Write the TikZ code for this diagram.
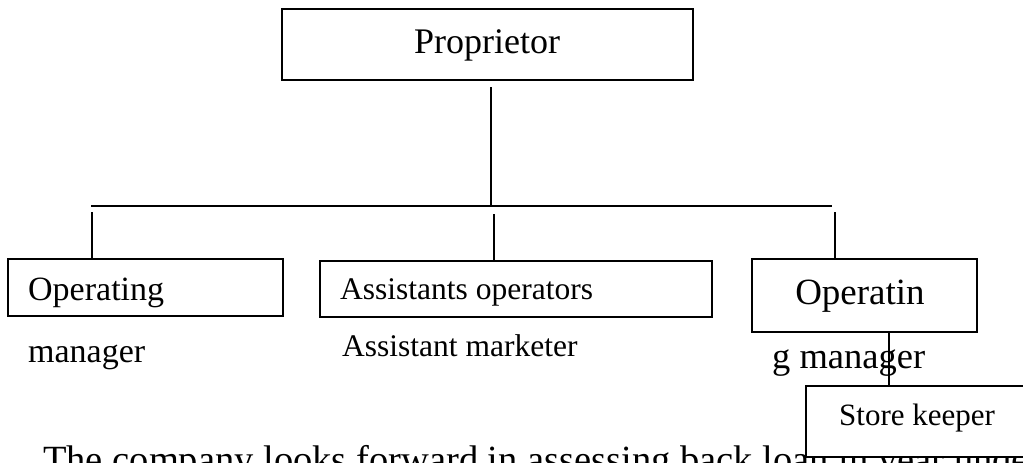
\documentclass[tikz,border=0pt]{standalone}
\usepackage{fontspec}
\setmainfont{Liberation Serif}
\begin{document}
\begin{tikzpicture}[x=1pt,y=-1pt,
  box/.style={draw=black,line width=1.1pt,fill=white,inner sep=0pt},
  conn/.style={draw=black,line width=1.1pt},
  lbl/.style={inner sep=0pt,anchor=base west}]
\useasboundingbox (0,0) rectangle (1023,463);
% bottom running text (partly hidden, as in the reference)
\node[lbl,font=\fontsize{38.5}{46}\selectfont] (para) at (43,472) {The company looks forward in assessing back loan in year undertaking};
% boxes
\node[box,minimum width=411pt,minimum height=71pt] (prop) at (487.5,44.5) {};
\node[inner sep=0pt,anchor=base,font=\fontsize{36}{43}\selectfont] (propt) at (487,53) {Proprietor};
\node[box,minimum width=275pt,minimum height=57pt] (opl) at (145.5,287.5) {};
\node[lbl,font=\fontsize{34}{41}\selectfont] (oplt) at (28,300) {Operating};
\node[lbl,font=\fontsize{34}{41}\selectfont] (oplm) at (28,362) {manager};
\node[box,minimum width=392pt,minimum height=56pt] (asst) at (516,289) {};
\node[lbl,font=\fontsize{31.5}{38}\selectfont] (asstt) at (340,299) {Assistants operators};
\node[lbl,font=\fontsize{31.5}{38}\selectfont] (asstm) at (342,356) {Assistant marketer};
\node[box,minimum width=225pt,minimum height=73pt] (opr) at (864.5,295.5) {};
\node[inner sep=0pt,anchor=base,font=\fontsize{37}{44}\selectfont] (oprt) at (860,304) {Operatin};
\node[lbl,font=\fontsize{36.5}{44}\selectfont] (oprm) at (772,368) {g manager};
% connectors
\coordinate (p1) at (491,87);
\coordinate (p2) at (491,206);
\coordinate (hl) at (91,206);
\coordinate (hr) at (832,206);
\coordinate (l1) at (92,212);
\coordinate (m1) at (494,214);
\coordinate (r1) at (835,212);
\coordinate (s0) at (889,332);
\draw[conn] (p1) -- (p2);
\draw[conn] (hl) -- (hr);
\draw[conn] (l1) -- (l1 |- opl.north);
\draw[conn] (m1) -- (m1 |- asst.north);
\draw[conn] (r1) -- (r1 |- opr.north);
% store keeper
\node[box,minimum width=224pt,minimum height=71pt] (store) at (918,421.5) {};
\node[lbl,font=\fontsize{31}{37}\selectfont] (storet) at (839,425) {Store keeper};
\draw[conn] (s0) -- (s0 |- store.north);
\end{tikzpicture}
\end{document}
